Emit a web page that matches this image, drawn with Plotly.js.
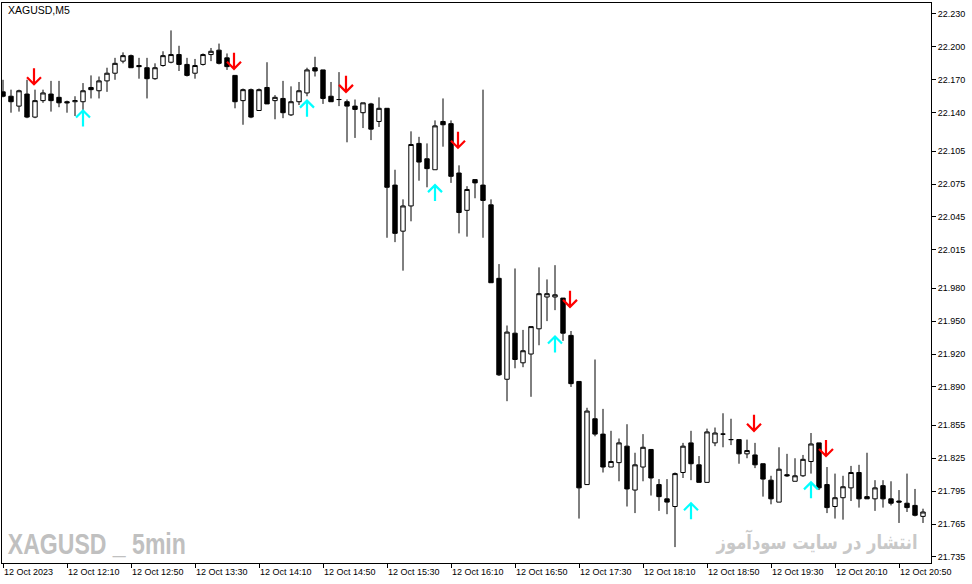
<!DOCTYPE html>
<html>
<head>
<meta charset="utf-8">
<script src="https://cdn.plot.ly/plotly-3.0.1.min.js"></script>
<style>html,body{margin:0;padding:0;background:#fff;}#chart{width:972px;height:584px;}</style>
</head>
<body>
<div id="chart"></div>
<script>
// ---- data (XAGUSD, M5, 12 Oct 2023) ----
const dateStr = "2023-10-12";
const times = [
"11:30","11:35","11:40","11:45","11:50","11:55",
"12:00","12:05","12:10","12:15","12:20","12:25","12:30","12:35","12:40","12:45","12:50","12:55",
"13:00","13:05","13:10","13:15","13:20","13:25","13:30","13:35","13:40","13:45","13:50","13:55",
"14:00","14:05","14:10","14:15","14:20","14:25","14:30","14:35","14:40","14:45","14:50","14:55",
"15:00","15:05","15:10","15:15","15:20","15:25","15:30","15:35","15:40","15:45","15:50","15:55",
"16:00","16:05","16:10","16:15","16:20","16:25","16:30","16:35","16:40","16:45","16:50","16:55",
"17:00","17:05","17:10","17:15","17:20","17:25","17:30","17:35","17:40","17:45","17:50","17:55",
"18:00","18:05","18:10","18:15","18:20","18:25","18:30","18:35","18:40","18:45","18:50","18:55",
"19:00","19:05","19:10","19:15","19:20","19:25","19:30","19:35","19:40","19:45","19:50","19:55",
"20:00","20:05","20:10","20:15","20:20","20:25","20:30","20:35","20:40","20:45","20:50","20:55",
"21:00","21:05"];
const openP = [
22.159,22.155,22.146,22.157,22.136,22.151,22.157,22.154,22.150,22.150,22.150,22.163,22.160,22.169,22.176,22.187,22.192,22.183,22.181,22.171,
22.183,22.186,22.193,22.184,22.176,22.184,22.193,22.197,22.190,22.174,22.151,22.161,22.142,22.163,22.151,22.153,22.138,22.150,22.158,22.181,
22.179,22.155,22.152,22.150,22.146,22.140,22.148,22.132,22.144,22.074,22.032,22.055,22.112,22.098,22.088,22.132,22.130,22.085,22.051,22.079,
22.074,22.056,21.989,21.897,21.939,21.912,21.920,21.943,21.972,21.972,21.971,21.937,21.895,21.801,21.861,21.847,21.817,21.821,21.836,21.796,
21.817,21.833,21.801,21.788,21.781,21.812,21.839,21.819,21.803,21.839,21.847,21.842,21.842,21.829,21.828,21.820,21.805,21.785,21.810,21.804,
21.809,21.822,21.839,21.801,21.781,21.789,21.798,21.812,21.790,21.788,21.800,21.788,21.786,21.784,21.782,21.772];
const highP = [
22.170,22.161,22.161,22.170,22.161,22.161,22.169,22.169,22.151,22.155,22.167,22.174,22.173,22.181,22.190,22.195,22.193,22.190,22.190,22.185,
22.196,22.215,22.201,22.190,22.189,22.194,22.199,22.203,22.194,22.174,22.162,22.162,22.162,22.186,22.156,22.169,22.164,22.168,22.181,22.191,
22.179,22.168,22.177,22.152,22.152,22.149,22.149,22.154,22.144,22.088,22.061,22.123,22.118,22.112,22.133,22.153,22.133,22.092,22.073,22.079,
22.161,22.061,22.002,21.946,21.998,21.942,21.945,21.999,21.988,22.001,21.971,21.941,21.895,21.871,21.915,21.870,21.850,21.843,21.856,21.830,
21.847,21.833,21.806,21.806,21.812,21.839,21.850,21.827,21.852,21.853,21.866,21.861,21.842,21.842,21.839,21.820,21.809,21.835,21.829,21.825,
21.828,21.848,21.839,21.817,21.811,21.809,21.818,21.819,21.830,21.805,21.805,21.804,21.796,21.811,21.797,21.779];
const lowP = [
22.154,22.140,22.141,22.135,22.135,22.149,22.141,22.145,22.140,22.137,22.141,22.153,22.153,22.159,22.170,22.185,22.181,22.171,22.153,22.170,
22.182,22.185,22.178,22.173,22.171,22.183,22.187,22.184,22.179,22.144,22.129,22.135,22.142,22.148,22.134,22.135,22.137,22.147,22.155,22.173,
22.148,22.150,22.146,22.113,22.117,22.126,22.115,22.127,22.026,22.022,21.996,22.041,22.078,22.072,22.088,22.109,22.076,22.030,22.027,22.062,
22.026,21.985,21.900,21.877,21.907,21.908,21.881,21.928,21.950,21.960,21.932,21.890,21.770,21.801,21.845,21.812,21.817,21.804,21.781,21.775,
21.804,21.791,21.777,21.774,21.744,21.807,21.805,21.803,21.803,21.836,21.835,21.837,21.820,21.825,21.816,21.790,21.783,21.785,21.808,21.804,
21.808,21.811,21.796,21.775,21.770,21.769,21.786,21.780,21.788,21.777,21.780,21.782,21.766,21.776,21.772,21.766];
const closeP = [
22.155,22.150,22.160,22.136,22.151,22.158,22.151,22.149,22.149,22.151,22.160,22.161,22.169,22.176,22.185,22.192,22.181,22.182,22.171,22.181,
22.192,22.193,22.184,22.174,22.183,22.193,22.196,22.185,22.182,22.150,22.161,22.136,22.161,22.148,22.154,22.140,22.150,22.160,22.179,22.178,
22.153,22.150,22.152,22.146,22.143,22.149,22.125,22.144,22.072,22.030,22.055,22.111,22.095,22.089,22.128,22.129,22.082,22.049,22.070,22.076,
22.060,21.985,21.901,21.940,21.915,21.923,21.945,21.975,21.975,21.974,21.939,21.893,21.798,21.868,21.847,21.817,21.822,21.839,21.797,21.819,
21.835,21.807,21.790,21.785,21.811,21.836,21.820,21.803,21.849,21.848,21.847,21.842,21.829,21.832,21.819,21.806,21.788,21.815,21.809,21.809,
21.824,21.838,21.798,21.780,21.789,21.799,21.812,21.788,21.788,21.798,21.788,21.784,21.785,21.780,21.773,21.776];
// signal arrows: bar time and tip price
const sellTimes = ["11:50","13:55","15:05","16:15","17:25","19:20","20:05"];
const sellTips  = [22.166,22.180,22.159,22.108,21.963,21.850,21.827];
const buyTimes  = ["12:20","14:40","16:00","17:15","18:40","19:55"];
const buyTips   = [22.142,22.151,22.074,21.936,21.784,21.803];
// axis labels
const priceTicks = [22.230,22.200,22.170,22.140,22.105,22.075,22.045,22.015,21.980,21.950,21.920,21.890,21.855,21.825,21.795,21.765,21.735];
const timeTicks  = ["11:30","12:10","12:50","13:30","14:10","14:50","15:30","16:10","16:50","17:30","18:10","18:50","19:30","20:10","20:50"];
const timeTickText = ["12 Oct 2023","12 Oct 12:10","12 Oct 12:50","12 Oct 13:30","12 Oct 14:10","12 Oct 14:50","12 Oct 15:30","12 Oct 16:10","12 Oct 16:50","12 Oct 17:30","12 Oct 18:10","12 Oct 18:50","12 Oct 19:30","12 Oct 20:10","12 Oct 20:50"];

const ts = t => dateStr + " " + t;
const x = times.map(ts);

const candle = {
  type: "candlestick",
  x: x, open: openP, high: highP, low: lowP, close: closeP,
  increasing: {line: {color: "#000000", width: 1}, fillcolor: "#ffffff"},
  decreasing: {line: {color: "#000000", width: 1}, fillcolor: "#000000"},
  whiskerwidth: 0,
  hoverinfo: "skip",
  showlegend: false
};

const shapes = [];
sellTimes.forEach((t, k) => {
  shapes.push({type: "path", xref: "x", yref: "y", xsizemode: "pixel", ysizemode: "pixel",
    xanchor: ts(t), yanchor: sellTips[k],
    path: "M-1,0 L-1,16 M-8,7 L-1,0 L6,7",
    line: {color: "#ff0000", width: 2.2}});
});
buyTimes.forEach((t, k) => {
  shapes.push({type: "path", xref: "x", yref: "y", xsizemode: "pixel", ysizemode: "pixel",
    xanchor: ts(t), yanchor: buyTips[k],
    path: "M0,0 L0,-16 M-7,-7 L0,0 L7,-7",
    line: {color: "#00ffff", width: 2.2}});
});

const layout = {
  width: 972, height: 584,
  margin: {l: 2, r: 41, t: 3, b: 21, pad: 0},
  paper_bgcolor: "#ffffff", plot_bgcolor: "#ffffff",
  showlegend: false,
  boxgap: 0.45, boxgroupgap: 0,
  font: {family: "Liberation Sans, Arial, sans-serif", size: 9, color: "#000"},
  xaxis: {
    type: "date",
    range: [ts("11:29:22.5"), ts("21:10")],
    rangeslider: {visible: false},
    showgrid: false, zeroline: false,
    showline: true, mirror: true, linecolor: "#000", linewidth: 1,
    ticks: "outside", ticklen: 4, tickcolor: "#000", tickwidth: 1,
    tickmode: "array", tickvals: timeTicks.map(ts), ticktext: timeTickText,
    ticklabelposition: "outside right",
    tickfont: {family: "Liberation Sans, Arial, sans-serif", size: 9, color: "#000"}
  },
  yaxis: {
    side: "right",
    range: [21.7295, 22.2400],
    showgrid: false, zeroline: false,
    showline: true, mirror: true, linecolor: "#000", linewidth: 1,
    ticks: "outside", ticklen: 4, tickcolor: "#000", tickwidth: 1,
    tickmode: "array", tickvals: priceTicks, ticktext: priceTicks.map(v => v.toFixed(3)),
    tickfont: {family: "Liberation Sans, Arial, sans-serif", size: 9, color: "#000"}
  },
  shapes: shapes,
  annotations: [
    {xref: "paper", yref: "paper", x: 0.0043, y: 0.9875, xanchor: "left", yanchor: "middle",
     text: "XAGUSD,M5", showarrow: false, font: {family: "Liberation Sans, Arial, sans-serif", size: 10.5, color: "#000"}},
    {xref: "paper", yref: "paper", x: 0.1023, y: 0.034, xanchor: "center", yanchor: "middle",
     text: "<b>XAGUSD _ 5min</b>", showarrow: false,
     font: {family: "Liberation Sans, sans-serif", size: 30, color: "#c0c0c0"}},
    {xref: "paper", yref: "paper", x: 0.8767, y: 0.039, xanchor: "center", yanchor: "middle",
     text: "<b>انتشار در سایت سودآموز</b>", showarrow: false,
     font: {family: "DejaVu Sans, sans-serif", size: 20, color: "#c8c8c8"}}
  ]
};

// target rendered widths of the two watermark texts (px)
const watermarkWidths = {1: 178, 2: 201};

Plotly.newPlot("chart", [candle], layout, {displayModeBar: false, staticPlot: true}).then(gd => {
  const texts = gd.querySelectorAll(".annotation .annotation-text");
  Object.keys(watermarkWidths).forEach(k => {
    const el = texts[+k];
    if (el) {
      el.setAttribute("textLength", watermarkWidths[k]);
      el.setAttribute("lengthAdjust", "spacingAndGlyphs");
    }
  });
});
</script>
</body>
</html>
